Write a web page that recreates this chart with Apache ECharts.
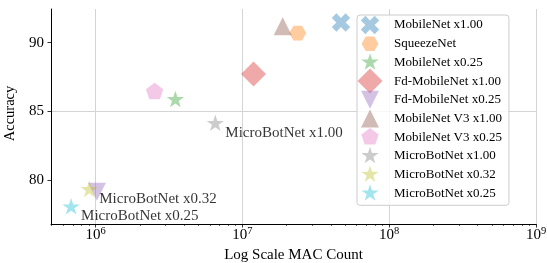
<!DOCTYPE html>
<html>
<head>
<meta charset="utf-8">
<script src="https://cdn.jsdelivr.net/npm/echarts@6/dist/echarts.min.js"></script>
<style>
  html, body { margin: 0; padding: 0; background: #fff; }
  #chart { width: 547px; height: 263px; }
</style>
</head>
<body>
<div id="chart"></div>
<script>
var models = ['MobileNet x1.00', 'SqueezeNet', 'MobileNet x0.25', 'Fd-MobileNet x1.00', 'Fd-MobileNet x0.25',
  'MobileNet V3 x1.00', 'MobileNet V3 x0.25', 'MicroBotNet x1.00', 'MicroBotNet x0.32', 'MicroBotNet x0.25'];
var macCounts = [4.69e7, 2.38e7, 3.49e6, 1.19e7, 1.02e6, 1.88e7, 2.52e6, 6.53e6, 9.04e5, 6.8e5];
var accuracy = [91.47, 90.70, 85.84, 87.72, 79.17, 91.19, 86.42, 84.11, 79.30, 78.04];
var annotated = ['MicroBotNet x1.00', 'MicroBotNet x0.32', 'MicroBotNet x0.25'];
var yTicks = [80, 85, 90];

var colors = ['rgba(31,119,180,0.5)', 'rgba(255,127,14,0.5)', 'rgba(44,160,44,0.5)', 'rgba(214,39,40,0.5)',
  'rgba(148,103,189,0.5)', 'rgba(140,86,75,0.5)', 'rgba(227,119,194,0.5)', 'rgba(127,127,127,0.5)',
  'rgba(188,189,34,0.5)', 'rgba(23,190,207,0.5)'];

// marker shapes, all drawn in the same [-1,1] frame so sizes stay comparable
function shapePath(pts) {
  var d = 'path://M-1 -1M1 1';
  pts.forEach(function (p, i) {
    d += (i ? 'L' : 'M') + p[0].toFixed(4) + ' ' + p[1].toFixed(4);
  });
  return d + 'Z';
}
function regular(n, r, rot) {
  var pts = [];
  for (var i = 0; i < n; i++) {
    var a = (rot + i * 360 / n) * Math.PI / 180;
    pts.push([r * Math.sin(a), -r * Math.cos(a)]);
  }
  return pts;
}
function star(r) {
  var pts = [];
  for (var i = 0; i < 10; i++) {
    var rr = i % 2 ? r * 0.382 : r;
    var a = i * 36 * Math.PI / 180;
    pts.push([rr * Math.sin(a), -rr * Math.cos(a)]);
  }
  return pts;
}
var a = 0.3536, b = 0.7071;
var xMark = shapePath([[-b, a], [-a, b], [0, a], [a, b], [b, a], [a, 0], [b, -a], [a, -b], [0, -a], [-a, -b], [-b, -a], [-a, 0]]);
var symbols = [
  xMark,
  shapePath(regular(6, 0.65, 30)),
  shapePath(star(0.70)),
  shapePath([[0, -0.96], [0.96, 0], [0, 0.96], [-0.96, 0]]),
  shapePath([[0, 0.69], [-0.69, -0.69], [0.69, -0.69]]),
  shapePath([[0, -0.69], [0.69, 0.69], [-0.69, 0.69]]),
  shapePath(regular(5, 0.70, 0)),
  shapePath(star(0.70)),
  shapePath(star(0.70)),
  shapePath(star(0.70))
];

var xMin = 4.96e5, xMax = 1e9;
var minorTicks = [];
for (var e = 5; e < 9; e++) {
  for (var k = 2; k < 10; k++) {
    var v = k * Math.pow(10, e);
    if (v >= xMin && v <= xMax) minorTicks.push(Math.log10(v));
  }
}

var font = 'Liberation Serif';
var gridColor = '#d4d4d4';

var series = models.map(function (name, i) {
  var s = {
    name: name,
    type: 'scatter',
    data: [[macCounts[i], accuracy[i]]],
    symbol: symbols[i],
    symbolSize: 26,
    itemStyle: { color: colors[i] },
    emphasis: { disabled: true }
  };
  if (annotated.indexOf(name) >= 0) {
    s.label = {
      show: true,
      position: 'inside',
      offset: [10, 9],
      align: 'left',
      verticalAlign: 'middle',
      formatter: '{a}',
      fontFamily: font,
      fontSize: 15,
      color: '#000'
    };
  }
  return s;
});

var chart = echarts.init(document.getElementById('chart'));
chart.setOption({
  animation: false,
  textStyle: { fontFamily: font },
  grid: { left: 51, right: 11, top: 9, bottom: 39, containLabel: false, outerBoundsMode: 'none' },
  legend: {
    orient: 'vertical',
    left: 357,
    top: 15,
    padding: [-3, 7, -1, 0],
    itemWidth: 38,
    itemHeight: 26,
    itemGap: -7.3,
    selectedMode: false,
    backgroundColor: 'rgba(255,255,255,0.8)',
    borderColor: '#cccccc',
    borderWidth: 1,
    borderRadius: 3,
    textStyle: { fontFamily: font, fontSize: 13, color: '#000' },
    data: models
  },
  xAxis: [{
    type: 'log',
    logBase: 10,
    min: xMin,
    max: xMax,
    name: 'Log Scale MAC Count',
    nameLocation: 'middle',
    nameGap: 24,
    nameTextStyle: { fontFamily: font, fontSize: 15, color: '#000' },
    axisLine: { onZero: false, lineStyle: { color: '#000', width: 1 } },
    axisTick: { length: 3.5, lineStyle: { color: '#000', width: 0.8 } },
    axisLabel: {
      showMinLabel: false,
      margin: 2,
      formatter: function (val) {
        return '{b|10}{s|' + Math.round(Math.log10(val)) + '}';
      },
      rich: {
        b: { fontFamily: font, fontSize: 15, color: '#000', lineHeight: 17, verticalAlign: 'bottom' },
        s: { fontFamily: font, fontSize: 10.5, color: '#000', lineHeight: 10, verticalAlign: 'top' }
      }
    },
    splitLine: { show: true, showMinLine: false, lineStyle: { color: gridColor, width: 1 } }
  }, {
    type: 'value',
    position: 'bottom',
    min: Math.log10(xMin),
    max: Math.log10(xMax),
    axisLine: { show: false, onZero: false },
    axisLabel: { show: false },
    splitLine: { show: false },
    axisTick: { show: true, customValues: minorTicks, length: 2, lineStyle: { color: '#000', width: 0.6 } }
  }],
  yAxis: {
    type: 'value',
    min: 76.82,
    max: 92.45,
    splitNumber: 3,
    name: 'Accuracy',
    nameLocation: 'middle',
    nameGap: 21,
    nameTextStyle: { fontFamily: font, fontSize: 14.5, color: '#000', padding: [0, 0, 0, 6] },
    axisLine: { show: true, onZero: false, lineStyle: { color: '#000', width: 1 } },
    axisTick: { show: true, customValues: yTicks, length: 3.5, lineStyle: { color: '#000', width: 0.8 } },
    axisLabel: { customValues: yTicks, margin: 7, fontFamily: font, fontSize: 15, color: '#000' },
    splitLine: { show: true, showMinLine: false, showMaxLine: false, lineStyle: { color: gridColor, width: 1 } }
  },
  series: series
});
</script>
</body>
</html>
